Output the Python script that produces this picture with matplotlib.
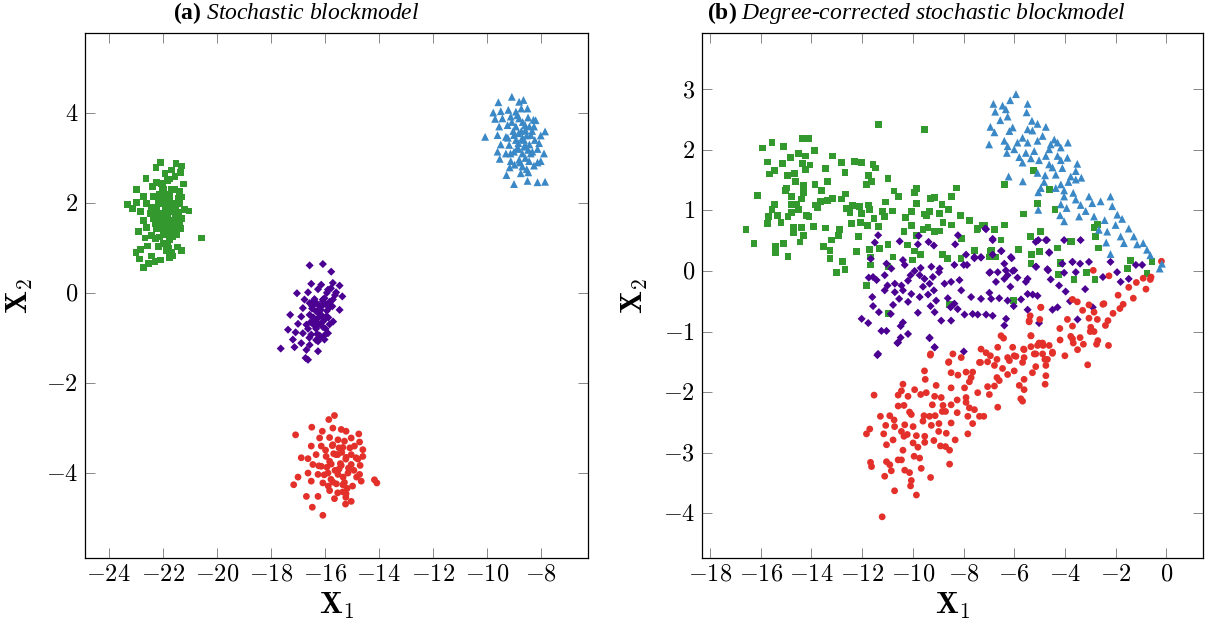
import numpy as np
import matplotlib
matplotlib.use('Agg')
import matplotlib.pyplot as plt
from matplotlib.ticker import FuncFormatter

plt.rcParams['font.family'] = ['Liberation Serif', 'DejaVu Serif']
plt.rcParams['mathtext.fontset'] = 'cm'
plt.rcParams['mathtext.it'] = 'Liberation Serif:italic'
plt.rcParams['mathtext.bf'] = 'Liberation Serif:bold'
plt.rcParams['mathtext.rm'] = 'Liberation Serif'

GREEN = '#33992e'
PURPLE = '#4b0092'
RED = '#e3302a'
BLUE = '#3a88c5'

# ---- panel (a): stochastic blockmodel ----
sbm_green = [
    (-22.07, 2.90), (-22.25, 2.79), (-21.51, 2.87), (-21.30, 2.82), (-21.67, 2.73), (-21.33, 2.67),
    (-21.92, 2.66), (-22.62, 2.55), (-22.23, 2.45), (-21.76, 2.53), (-21.22, 2.42), (-22.97, 2.29),
    (-22.38, 2.36), (-21.98, 2.30), (-21.55, 2.30), (-21.37, 2.25), (-22.72, 2.14), (-22.35, 2.14),
    (-22.11, 2.18), (-21.74, 2.14), (-21.30, 2.13), (-22.97, 2.01), (-23.31, 1.96), (-23.12, 1.88),
    (-22.60, 1.98), (-22.41, 1.90), (-22.17, 1.99), (-21.92, 1.96), (-21.61, 1.92), (-21.37, 1.99),
    (-22.82, 1.81), (-22.47, 1.77), (-22.23, 1.81), (-21.98, 1.77), (-21.67, 1.81), (-21.43, 1.79),
    (-21.18, 1.85), (-21.03, 1.82), (-22.72, 1.61), (-22.35, 1.66), (-22.11, 1.59), (-21.83, 1.62),
    (-21.55, 1.66), (-21.39, 1.55), (-22.60, 1.46), (-22.23, 1.42), (-21.92, 1.40), (-21.62, 1.46),
    (-21.34, 1.43), (-22.91, 1.36), (-22.66, 1.22), (-22.41, 1.27), (-22.11, 1.24), (-21.74, 1.19),
    (-21.49, 1.29), (-20.57, 1.22), (-22.57, 1.04), (-22.17, 1.03), (-21.80, 0.99), (-21.45, 1.02),
    (-22.99, 0.90), (-22.82, 0.96), (-21.30, 0.94), (-22.41, 0.82), (-21.74, 0.79), (-21.62, 0.82),
    (-22.87, 0.75), (-22.29, 0.70), (-22.08, 0.73), (-22.72, 0.57), (-22.54, 0.66), (-21.92, 1.51),
    (-22.29, 1.53), (-21.74, 1.33), (-21.98, 1.10), (-21.86, 2.07), (-22.04, 2.44), (-21.55, 2.59),
    (-21.82, 1.70), (-21.62, 1.60), (-21.92, 1.85), (-21.72, 1.95), (-21.52, 1.75), (-22.02, 1.55),
    (-21.77, 1.45), (-21.57, 2.00), (-21.87, 2.20), (-21.67, 2.30), (-22.12, 1.70), (-21.47, 1.50),
    (-21.97, 1.30), (-21.62, 1.25), (-22.22, 1.90), (-22.07, 2.05), (-21.42, 2.10), (-21.82, 1.10),
    (-21.67, 0.90), (-21.57, 1.35), (-21.92, 1.65), (-21.72, 1.55), (-21.77, 2.05), (-21.52, 1.90),
    (-22.02, 2.35), (-21.82, 2.50), (-22.17, 1.45), (-21.87, 0.95), (-21.32, 1.65), (-22.27, 1.20),
]
sbm_purple = [
    (-16.56, 0.61), (-16.07, 0.64), (-15.76, 0.47), (-16.50, 0.20), (-16.13, 0.18), (-15.70, 0.22),
    (-15.45, 0.16), (-17.03, -0.01), (-16.62, 0.01), (-16.25, 0.08), (-15.88, 0.07), (-15.58, 0.01),
    (-15.35, -0.08), (-16.75, -0.15), (-16.38, -0.14), (-16.01, -0.12), (-15.70, -0.15), (-16.81, -0.34),
    (-16.46, -0.30), (-16.19, -0.36), (-15.82, -0.32), (-15.45, -0.38), (-17.28, -0.49), (-16.87, -0.53),
    (-16.56, -0.49), (-16.25, -0.56), (-15.95, -0.53), (-15.69, -0.64), (-16.99, -0.69), (-16.68, -0.71),
    (-16.38, -0.73), (-16.07, -0.76), (-17.36, -0.82), (-17.08, -0.88), (-16.81, -0.90), (-16.50, -0.93),
    (-16.19, -0.95), (-15.88, -0.90), (-17.18, -1.04), (-16.87, -1.12), (-16.56, -1.16), (-16.25, -1.08),
    (-16.01, -1.04), (-17.12, -1.21), (-17.63, -1.24), (-16.68, -1.27), (-16.25, -1.30), (-16.71, -1.45),
    (-16.62, -1.49), (-16.07, -0.19), (-16.56, -0.23), (-16.32, -0.41), (-16.07, -0.64),
    (-16.12, -0.50), (-16.02, -0.60), (-16.22, -0.70), (-15.92, -0.40), (-15.82, -0.20), (-16.32, -0.80),
    (-16.12, -0.30), (-15.97, -0.80), (-16.22, -0.45), (-16.07, -0.15), (-16.42, -0.55), (-15.87, -0.55),
    (-16.17, -1.00), (-16.32, -1.05), (-15.72, -0.30), (-15.62, -0.05), (-16.52, -0.65), (-16.02, -0.95),
    (-15.82, -0.70), (-16.27, -0.25), (-16.62, -0.80), (-16.47, -0.35), (-15.92, 0.00), (-15.77, 0.10),
    (-16.57, -1.00), (-16.35, -0.62), (-16.15, -0.38), (-16.40, -0.18), (-15.98, -0.25), (-16.28, -0.92),
]
sbm_red = [
    (-15.64, -2.73), (-15.85, -2.82), (-17.08, -3.16), (-16.48, -2.99), (-16.09, -3.08), (-15.70, -3.01),
    (-15.39, -3.04), (-15.21, -3.08), (-14.74, -3.14), (-16.19, -3.23), (-15.82, -3.22), (-15.51, -3.27),
    (-15.02, -3.23), (-14.71, -3.32), (-16.50, -3.41), (-16.13, -3.41), (-15.70, -3.38), (-15.33, -3.44),
    (-14.90, -3.41), (-14.59, -3.49), (-16.87, -3.67), (-16.62, -3.69), (-16.32, -3.60), (-15.95, -3.64),
    (-15.58, -3.60), (-15.21, -3.66), (-14.84, -3.67), (-14.59, -3.64), (-16.44, -3.82), (-16.13, -3.86),
    (-15.76, -3.81), (-15.39, -3.84), (-15.02, -3.82), (-14.69, -3.84), (-16.62, -4.01), (-16.25, -4.04),
    (-15.88, -4.01), (-15.51, -4.04), (-15.14, -4.01), (-14.71, -4.04), (-16.99, -4.10), (-17.15, -4.27),
    (-16.50, -4.19), (-16.07, -4.23), (-15.70, -4.21), (-15.33, -4.27), (-14.65, -4.19), (-14.16, -4.16),
    (-14.07, -4.23), (-15.82, -4.40), (-15.33, -4.43), (-16.68, -4.53), (-16.25, -4.53), (-15.64, -4.58),
    (-15.21, -4.47), (-15.02, -4.64), (-15.23, -4.70), (-16.46, -4.77), (-16.07, -4.95),
    (-15.42, -3.80), (-15.22, -3.70), (-15.52, -3.60), (-15.12, -3.90), (-15.62, -3.95), (-15.32, -4.10),
    (-15.02, -3.60), (-15.82, -3.75), (-14.92, -3.95), (-15.47, -3.45), (-15.27, -3.30), (-15.97, -3.50),
    (-15.17, -4.35), (-15.57, -4.25), (-16.02, -4.05), (-14.82, -4.10), (-15.37, -3.55), (-15.07, -3.45),
    (-15.72, -3.40), (-15.52, -4.45), (-14.97, -4.30), (-16.22, -3.85), (-14.77, -3.70), (-15.87, -4.30),
    (-15.22, -4.55), (-15.47, -3.92), (-15.67, -3.58), (-15.92, -3.88), (-15.27, -4.22), (-15.77, -4.15),
]
sbm_blue = [
    (-9.07, 4.36), (-8.80, 4.25), (-8.64, 4.29), (-9.57, 4.24), (-8.49, 4.10), (-9.76, 4.01),
    (-9.48, 4.04), (-9.20, 4.07), (-8.92, 4.03), (-9.69, 3.87), (-9.42, 3.88), (-9.11, 3.92),
    (-8.80, 3.88), (-8.19, 3.84), (-9.54, 3.70), (-9.23, 3.73), (-8.92, 3.70), (-8.58, 3.73),
    (-8.25, 3.70), (-7.84, 3.59), (-10.06, 3.47), (-9.60, 3.51), (-9.29, 3.47), (-8.99, 3.51),
    (-8.68, 3.45), (-8.37, 3.51), (-8.00, 3.50), (-9.48, 3.30), (-9.17, 3.29), (-8.83, 3.33),
    (-8.56, 3.27), (-8.06, 3.33), (-9.60, 3.14), (-9.29, 3.10), (-8.99, 3.14), (-8.68, 3.10),
    (-8.31, 3.14), (-7.88, 3.10), (-9.52, 2.98), (-9.11, 2.93), (-8.80, 2.96), (-8.43, 2.93),
    (-8.12, 2.90), (-8.00, 2.93), (-9.15, 2.79), (-8.68, 2.81), (-8.25, 2.83), (-9.27, 2.62),
    (-8.74, 2.66), (-8.46, 2.68), (-8.99, 2.42), (-8.49, 2.49), (-8.12, 2.46), (-7.84, 2.47),
    (-8.62, 3.40), (-8.52, 3.50), (-8.72, 3.60), (-8.42, 3.30), (-8.82, 3.20), (-8.57, 3.00),
    (-8.92, 3.40), (-8.32, 3.60), (-8.67, 3.80), (-8.47, 3.90), (-9.02, 3.60), (-8.22, 3.40),
    (-8.77, 2.90), (-8.37, 3.10), (-9.12, 3.10), (-8.87, 3.95), (-8.52, 2.75), (-8.62, 3.25),
    (-8.42, 3.70), (-8.97, 2.85), (-9.22, 3.45), (-8.12, 3.20), (-9.07, 3.80), (-8.27, 3.85),
    (-8.72, 4.10), (-8.82, 3.55), (-8.57, 3.62), (-8.87, 3.22), (-8.47, 3.18), (-8.67, 3.42),
]

# ---- panel (b): degree-corrected stochastic blockmodel ----
dc_green = [
    (-14.36, 2.19), (-14.12, 2.19), (-15.56, 2.12), (-15.92, 2.03), (-15.10, 2.05), (-13.89, 1.99),
    (-14.51, 1.94), (-14.25, 1.90), (-14.83, 1.87), (-13.18, 1.90), (-15.73, 1.80), (-15.13, 1.78),
    (-14.36, 1.77), (-14.06, 1.75), (-12.81, 1.79), (-12.29, 1.81), (-12.03, 1.79), (-11.57, 1.76),
    (-11.48, 1.70), (-13.44, 1.69), (-15.46, 1.66), (-15.65, 1.60), (-14.67, 1.61), (-14.95, 1.58),
    (-14.25, 1.68), (-12.68, 1.62), (-11.76, 1.58), (-11.63, 1.48), (-13.37, 1.48), (-10.98, 1.53),
    (-14.62, 1.48), (-11.84, 1.43), (-13.86, 1.43), (-14.32, 1.41), (-14.97, 1.37), (-15.01, 1.33),
    (-13.62, 1.33), (-16.14, 1.25), (-14.78, 1.23), (-14.32, 1.29), (-14.38, 1.19), (-12.65, 1.27),
    (-10.74, 1.32), (-9.86, 1.36), (-9.93, 1.29), (-8.28, 1.37), (-10.58, 1.23), (-12.81, 1.19),
    (-13.16, 1.20), (-13.37, 1.17), (-13.64, 1.15), (-15.46, 1.10), (-14.80, 1.10), (-14.58, 1.10),
    (-13.86, 1.09), (-11.08, 1.14), (-9.85, 1.11), (-9.30, 1.20), (-9.14, 1.22), (-8.49, 1.23),
    (-8.85, 1.10), (-12.39, 1.08), (-12.09, 1.07), (-11.76, 1.09), (-15.56, 1.01), (-14.51, 1.01),
    (-13.75, 1.04), (-12.64, 1.03), (-12.48, 0.97), (-12.03, 0.95), (-11.70, 1.01), (-11.20, 0.98),
    (-10.81, 0.99), (-10.06, 0.98), (-9.54, 0.94), (-9.34, 0.98), (-8.95, 0.95), (-8.58, 1.01),
    (-15.69, 0.90), (-15.34, 0.92), (-14.93, 0.90), (-14.80, 0.97), (-14.19, 0.92), (-14.10, 0.90),
    (-11.53, 0.87), (-11.11, 0.90), (-10.30, 0.88), (-9.46, 0.92), (-8.12, 0.92), (-7.77, 0.84),
    (-15.72, 0.79), (-15.20, 0.80), (-13.92, 0.73), (-13.44, 0.71), (-12.90, 0.68), (-12.42, 0.79),
    (-12.05, 0.80), (-11.79, 0.75), (-11.37, 0.74), (-10.06, 0.75), (-9.40, 0.72), (-9.14, 0.65),
    (-8.81, 0.80), (-8.49, 0.76), (-9.60, 0.68), (-16.58, 0.68), (-14.71, 0.72), (-14.38, 0.72),
    (-14.70, 0.64), (-14.32, 0.59), (-12.92, 0.59), (-12.13, 0.57), (-10.35, 0.65), (-9.86, 0.59),
    (-8.95, 0.66), (-8.09, 0.54), (-7.18, 0.76), (-7.44, 0.70), (-6.78, 0.68), (-6.39, 0.76),
    (-16.27, 0.46), (-15.43, 0.40), (-15.10, 0.46), (-15.41, 0.31), (-14.93, 0.24), (-14.45, 0.48),
    (-13.53, 0.40), (-13.20, 0.51), (-13.27, 0.34), (-12.22, 0.32), (-11.70, 0.36), (-11.30, 0.37),
    (-10.98, 0.44), (-10.22, 0.43), (-9.93, 0.33), (-9.69, 0.27), (-8.84, 0.27), (-7.57, 0.34),
    (-6.91, 0.34), (-6.72, 0.23), (-13.27, 0.20), (-12.77, 0.16), (-11.67, 0.23), (-10.78, 0.23),
    (-10.00, 0.18), (-8.62, 0.20), (-8.10, 0.21), (-6.98, 0.23), (-13.00, -0.02), (-12.68, 0.03),
    (-11.66, 0.10), (-10.98, 0.07), (-11.36, 2.42), (-9.55, 2.33),
    (-5.24, 1.66), (-6.39, 1.43), (-4.62, 1.34), (-5.08, 1.11), (-5.63, 0.94), (-4.39, 1.01),
    (-6.39, 0.76), (-2.72, 0.77), (-2.85, 0.72), (-2.79, 0.57), (-2.66, 0.38), (-4.95, 0.65),
    (-5.37, 0.57), (-4.29, 0.38), (-3.73, 0.49), (-5.32, 0.27), (-5.34, 0.13), (-4.16, 0.14),
    (-1.41, 0.17), (-0.56, 0.15), (-1.54, 0.04), (-0.76, -0.04), (-3.64, -0.14), (-2.81, -0.14),
    (-4.26, -0.06), (-3.14, -0.02), (-5.01, 0.32), (-5.84, 0.36), (-6.94, 0.32), (-6.52, 0.51),
    (-7.47, 0.68), (-7.24, 0.76), (-7.77, 0.84),
    (-8.55, -0.56), (-10.98, -0.70), (-6.02, -0.49), (-11.83, -0.24), (-5.34, 0.57), (-4.95, 0.65),
    (-3.77, 0.49), (-4.16, 0.12), (-4.23, -0.06), (-3.64, -0.14),
]
dc_purple = [
    (-11.37, 0.59), (-11.50, 0.47), (-10.52, 0.49), (-9.77, 0.58), (-9.38, 0.48), (-9.80, 0.44),
    (-9.17, 0.42), (-8.22, 0.59), (-8.33, 0.44), (-7.11, 0.69), (-6.85, 0.51), (-6.52, 0.33),
    (-11.66, 0.20), (-11.04, 0.12), (-10.85, 0.04), (-10.39, 0.18), (-10.32, 0.10), (-9.93, 0.00),
    (-9.69, 0.05), (-9.27, 0.07), (-8.94, 0.04), (-8.97, -0.02), (-9.73, -0.07), (-9.54, -0.13),
    (-9.21, -0.10), (-10.19, -0.16), (-10.45, -0.24), (-10.71, -0.21), (-11.00, -0.24), (-11.11, -0.32),
    (-10.71, -0.35), (-10.39, -0.32), (-10.06, -0.38), (-9.73, -0.43), (-9.40, -0.39), (-9.17, -0.32),
    (-9.08, -0.49), (-9.30, -0.58), (-9.14, -0.68), (-11.57, -0.10), (-11.74, -0.11), (-11.43, -0.15),
    (-11.11, -0.07), (-11.60, -0.43), (-11.57, -0.58), (-11.34, -0.68), (-10.87, -0.71), (-12.02, -0.79),
    (-11.76, -0.86), (-11.24, -0.99), (-11.04, -0.99), (-10.48, -0.91), (-10.39, -0.85), (-10.19, -1.04),
    (-10.48, -1.10), (-10.61, -1.19), (-11.37, -1.37), (-9.34, -1.10), (-9.14, -1.26), (-9.80, -0.69),
    (-8.88, -0.82), (-8.49, -0.82), (-8.23, -0.63), (-8.36, -0.54), (-8.62, -0.45), (-8.75, -0.21),
    (-8.49, -0.18), (-8.16, -0.15), (-8.09, -0.32), (-7.99, 0.10), (-7.90, 0.27), (-8.36, 0.10),
    (-7.70, -0.43), (-7.31, -0.46), (-6.98, -0.36), (-6.59, -0.45), (-6.26, -0.49), (-7.64, -0.71),
    (-7.44, -0.72), (-7.11, -0.72), (-6.85, -0.74), (-6.98, -0.03), (-6.72, -0.18), (-6.39, -0.13),
    (-6.26, -0.07), (-6.06, 0.00), (-5.87, -0.11), (-6.39, 0.12), (-6.10, 0.21), (-6.15, -0.26),
    (-6.02, -0.58), (-5.73, -0.47), (-5.47, -0.38), (-5.27, -0.39), (-6.32, -0.79), (-6.39, -0.90),
    (-5.47, -0.64), (-5.02, -0.86), (-5.08, -0.41), (-5.15, 0.07), (-4.69, 0.03), (-4.56, -0.14),
    (-4.23, -0.24), (-3.97, -0.34), (-3.70, 0.15), (-3.57, -0.02), (-4.29, -0.60), (-4.49, -0.64),
    (-5.54, -0.18), (-4.75, 0.51), (-4.62, 0.31), (-5.15, 0.48), (-6.85, 0.27), (-7.31, 0.22),
    (-7.57, 0.23), (-7.96, -0.72), (-8.51, -0.60), (-6.91, -0.46), (-9.34, -0.21), (-9.60, -0.26),
    (-10.19, -0.51), (-10.54, -0.46), (-10.78, -0.56), (-10.09, -0.07),
    (-7.14, 0.70), (-6.85, 0.53), (-6.50, 0.33), (-6.13, 0.23), (-6.65, -0.02), (-6.95, -0.02),
    (-6.33, 0.01), (-6.00, 0.01), (-5.47, -0.13), (-5.13, 0.07), (-4.71, 0.51), (-4.62, 0.30),
    (-4.66, 0.01), (-4.03, 0.51), (-3.38, 0.51), (-4.10, 0.12), (-3.70, 0.15), (-3.40, 0.12),
    (-3.05, 0.15), (-4.03, -0.03), (-5.05, 0.51), (-1.94, -0.02), (-0.95, 0.10), (-1.80, -0.18),
    (-1.48, -0.13), (-7.57, 0.21), (-7.31, 0.23), (-7.86, 0.10),
    (-11.40, -1.39), (-9.34, -1.11), (-9.14, -1.26), (-10.58, -1.18), (-7.99, -1.33),
    (-3.20, -0.30), (-2.50, -0.10), (-2.20, 0.15), (-1.20, 0.10), (-3.80, -0.50), (-2.90, -0.60),
    (-3.50, -0.80),
]
dc_red = [
    (-3.70, -0.47), (-3.51, -0.51), (-3.05, -0.56), (-2.46, -0.54), (-1.83, -0.62), (-4.95, -0.60),
    (-2.85, -0.68), (-3.05, -0.78), (-2.72, -0.80), (-2.30, -0.82), (-5.41, -0.82), (-4.99, -0.80),
    (-3.70, -0.91), (-2.98, -0.93), (-2.85, -1.00), (-6.52, -1.07), (-6.42, -1.11), (-5.34, -1.07),
    (-4.19, -1.14), (-3.70, -1.12), (-3.67, -1.19), (-3.27, -1.21), (-2.75, -1.21), (-2.28, -1.23),
    (-5.02, -1.19), (-4.86, -1.23), (-4.62, -1.23), (-6.06, -1.26), (-5.61, -1.30), (-5.34, -1.25),
    (-6.65, -1.26), (-7.11, -1.35), (-7.31, -1.29), (-8.42, -1.37), (-8.09, -1.43), (-6.94, -1.40),
    (-6.68, -1.46), (-6.26, -1.43), (-5.93, -1.41), (-5.61, -1.43), (-5.15, -1.37), (-4.88, -1.37),
    (-4.49, -1.36), (-4.69, -1.46), (-9.31, -1.39), (-8.58, -1.50), (-7.05, -1.50), (-6.78, -1.56),
    (-6.19, -1.48), (-5.67, -1.51), (-5.15, -1.58), (-4.75, -1.56), (-7.33, -1.51), (-6.46, -1.61),
    (-6.00, -1.65), (-5.28, -1.68), (-4.75, -1.73), (-4.78, -1.87), (-8.49, -1.68), (-8.22, -1.72),
    (-7.90, -1.67), (-7.64, -1.67), (-9.54, -1.65), (-7.70, -1.76), (-6.68, -1.76), (-6.59, -1.81),
    (-6.26, -1.71), (-5.61, -1.79), (-9.51, -1.79), (-9.08, -1.89), (-8.49, -1.93), (-7.96, -1.93),
    (-7.77, -1.83), (-7.05, -1.91), (-6.78, -1.90), (-5.80, -1.89), (-5.61, -1.96), (-10.39, -1.87),
    (-10.45, -1.98), (-9.93, -1.96), (-9.69, -2.04), (-9.47, -2.01), (-11.53, -2.05), (-10.58, -2.05),
    (-10.19, -2.07), (-9.14, -2.07), (-8.88, -2.09), (-8.25, -2.13), (-7.90, -2.09), (-6.98, -2.04),
    (-7.44, -2.01), (-10.58, -2.23), (-10.35, -2.22), (-9.23, -2.21), (-8.81, -2.22), (-8.49, -2.21),
    (-7.90, -2.17), (-7.77, -2.26), (-7.57, -2.29), (-6.65, -2.25), (-5.74, -2.11), (-5.67, -2.15),
    (-10.13, -2.33), (-10.06, -2.37), (-11.28, -2.40), (-10.91, -2.39), (-9.12, -2.39), (-8.84, -2.32),
    (-8.71, -2.32), (-8.25, -2.34), (-7.83, -2.40), (-7.64, -2.52), (-7.37, -2.40), (-7.20, -2.40),
    (-9.34, -2.40), (-9.56, -2.39), (-10.74, -2.46), (-11.07, -2.55), (-10.72, -2.57), (-10.32, -2.54),
    (-9.99, -2.57), (-9.60, -2.48), (-9.27, -2.55), (-8.97, -2.52), (-8.49, -2.51), (-11.70, -2.61),
    (-11.83, -2.69), (-11.15, -2.69), (-10.45, -2.65), (-10.22, -2.70), (-9.86, -2.72), (-9.53, -2.73),
    (-9.17, -2.80), (-8.98, -2.65), (-8.68, -2.68), (-7.83, -2.69), (-10.78, -2.79), (-10.35, -2.73),
    (-9.99, -2.84), (-9.53, -2.83), (-8.91, -2.89), (-8.71, -2.90), (-8.33, -2.79), (-8.55, -2.96),
    (-11.04, -2.87), (-9.80, -2.91), (-10.39, -2.96), (-9.95, -3.06), (-9.73, -3.09), (-10.58, -3.12),
    (-10.45, -3.12), (-11.67, -3.16), (-11.63, -3.23), (-11.04, -3.15), (-10.91, -3.20), (-10.85, -3.30),
    (-10.32, -3.29), (-10.13, -3.33), (-9.67, -3.26), (-8.55, -3.19), (-11.11, -3.39), (-10.06, -3.46),
    (-9.30, -3.41), (-10.09, -3.55), (-10.72, -3.63), (-9.86, -3.70), (-11.21, -4.06),
    (-2.88, 0.01), (-2.26, -0.08), (-1.18, -0.19), (-0.91, -0.12), (-0.63, -0.14), (-0.19, 0.16),
    (-1.48, -0.27), (-4.95, -0.60), (-5.37, -0.74), (-5.41, -0.84), (-3.77, -1.08), (-3.40, -1.10),
    (-5.34, -1.07), (-4.88, -1.19), (-5.08, -1.23), (-4.49, -1.34), (-4.79, -1.46), (-6.00, -1.40),
    (-5.63, -1.29), (-5.21, -1.37), (-7.37, -1.51), (-8.59, -1.51), (-9.30, -1.37),
    (-0.60, -0.10), (-1.90, -0.40), (-1.30, -0.45), (-2.50, -0.55), (-2.10, -0.70), (-3.30, -0.65),
    (-3.00, -1.00), (-2.70, -1.15), (-3.90, -0.80), (-4.20, -0.95), (-2.40, -0.90), (-1.70, -0.55),
    (-0.80, -0.30), (-3.50, -1.30), (-4.00, -1.40), (-3.10, -1.55),
]
dc_blue = [
    (-5.93, 2.92), (-6.82, 2.76), (-6.16, 2.82), (-6.46, 2.73), (-5.47, 2.76), (-6.75, 2.63),
    (-6.33, 2.67), (-6.26, 2.55), (-6.55, 2.49), (-5.51, 2.62), (-5.30, 2.48), (-5.08, 2.43),
    (-4.75, 2.38), (-6.94, 2.38), (-6.78, 2.29), (-6.19, 2.31), (-6.06, 2.37), (-5.47, 2.34),
    (-5.28, 2.32), (-4.88, 2.23), (-5.67, 2.20), (-5.87, 2.12), (-6.39, 2.15), (-6.99, 2.09),
    (-6.26, 2.06), (-5.47, 2.12), (-5.08, 2.15), (-4.42, 2.17), (-4.29, 2.12), (-3.88, 2.12),
    (-4.56, 2.09), (-6.00, 2.01), (-5.54, 1.95), (-5.21, 1.98), (-4.62, 2.01), (-4.16, 2.04),
    (-6.29, 1.95), (-5.80, 1.88), (-5.34, 1.86), (-5.02, 1.83), (-4.75, 1.90), (-4.29, 1.90),
    (-3.90, 1.87), (-4.16, 1.83), (-5.67, 1.79), (-4.62, 1.76), (-4.49, 1.71), (-4.10, 1.70),
    (-3.51, 1.77), (-3.57, 1.65), (-5.08, 1.62), (-4.78, 1.58), (-4.36, 1.59), (-3.77, 1.56),
    (-3.35, 1.54), (-6.22, 1.56), (-5.66, 1.48), (-4.82, 1.47), (-4.16, 1.43), (-3.86, 1.47),
    (-3.57, 1.51), (-4.95, 1.37), (-5.05, 1.30), (-4.36, 1.37), (-4.03, 1.33), (-3.67, 1.29),
    (-4.03, 1.23), (-3.57, 1.18), (-3.05, 1.23), (-3.38, 1.09), (-2.92, 1.12), (-2.59, 1.15),
    (-2.20, 1.23), (-4.16, 1.10), (-5.05, 1.01), (-4.19, 0.92), (-3.93, 1.04), (-3.18, 0.99),
    (-2.85, 0.90), (-2.43, 0.84), (-2.13, 1.07), (-1.93, 0.93), (-1.74, 0.86), (-4.03, 0.82),
    (-3.44, 0.90), (-2.66, 0.68), (-2.33, 0.65), (-2.00, 0.76), (-1.80, 0.57), (-1.48, 0.70),
    (-1.28, 0.57), (-2.37, 0.47), (-1.67, 0.46), (-1.15, 0.44), (-0.91, 0.46), (-0.76, 0.35),
    (-0.63, 0.26), (-2.20, 0.28), (-0.17, 0.12), (-0.26, 0.04),
]

a_xticks = [-24, -22, -20, -18, -16, -14, -12, -10, -8]
a_yticks = [-4, -2, 0, 2, 4]
b_xticks = [-18, -16, -14, -12, -10, -8, -6, -4, -2, 0]
b_yticks = [-4, -3, -2, -1, 0, 1, 2, 3]


def draw(ax, groups):
    for pts, color, marker, size in groups:
        arr = np.array(pts)
        ax.scatter(arr[:, 0], arr[:, 1], c=color, marker=marker, s=size,
                   edgecolors='none', zorder=3)


def style(ax, xticks, yticks, ylab_x):
    fmt = FuncFormatter(lambda v, p: f'${v:g}$')
    ax.set_xticks(xticks)
    ax.set_yticks(yticks)
    ax.xaxis.set_major_formatter(fmt)
    ax.yaxis.set_major_formatter(fmt)
    ax.tick_params(direction='in', top=True, right=True, length=7, width=0.7,
                   color='#888888', pad=5)
    for lab in ax.get_xticklabels() + ax.get_yticklabels():
        lab.set_fontsize(17.5)
    for s in ax.spines.values():
        s.set_linewidth(0.9)
    ax.set_xlabel(r'$\mathbf{X}_1$', fontsize=22, va='center')
    ax.set_ylabel(r'$\mathbf{X}_2$', fontsize=22, va='center')
    ax.xaxis.set_label_coords(0.5, -0.091)
    ax.yaxis.set_label_coords(ylab_x, 0.5)


W, H = 1213, 630
fig = plt.figure(figsize=(W / 100, H / 100), dpi=100)
ax1 = fig.add_axes([85 / W, 1 - 558 / H, (588 - 85) / W, (558 - 33) / H])
ax2 = fig.add_axes([702 / W, 1 - 558 / H, (1203 - 702) / W, (558 - 33) / H])

draw(ax1, [(sbm_green, GREEN, 's', 24), (sbm_purple, PURPLE, 'D', 17),
           (sbm_red, RED, 'o', 24), (sbm_blue, BLUE, '^', 32)])
draw(ax2, [(dc_green, GREEN, 's', 24), (dc_purple, PURPLE, 'D', 17),
           (dc_red, RED, 'o', 24), (dc_blue, BLUE, '^', 32)])

ax1.set_xlim(-24.88, -6.25)
ax1.set_ylim(-5.90, 5.78)
ax2.set_xlim(-18.32, 1.45)
ax2.set_ylim(-4.74, 3.93)
style(ax1, a_xticks, a_yticks, -0.129)
style(ax2, b_xticks, b_yticks, -0.134)

fig.text(296 / W, 1 - 13 / H, r'$\mathbf{(a)}\ \mathit{Stochastic\ blockmodel}$',
         ha='center', va='center', fontsize=17, math_fontfamily='custom')
fig.text(916 / W, 1 - 13 / H, r'$\mathbf{(b)}\ \mathit{Degree}$-$\mathit{corrected\ stochastic\ blockmodel}$',
         ha='center', va='center', fontsize=17, math_fontfamily='custom')

fig.savefig('out.png', dpi=100)
